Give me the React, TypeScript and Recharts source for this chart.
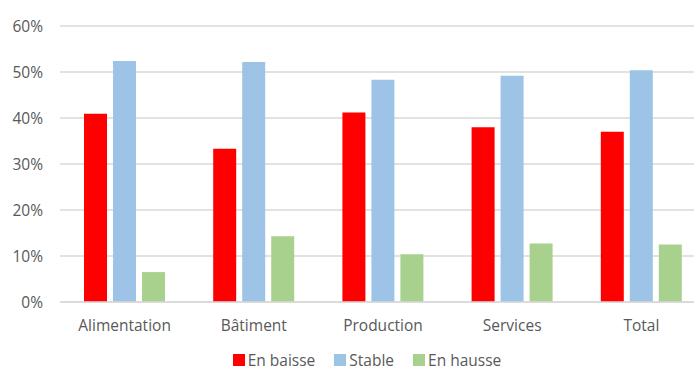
import { BarChart, Bar, XAxis, YAxis, CartesianGrid, Legend } from "recharts"

const categories = ["Alimentation", "Bâtiment", "Production", "Services", "Total"]
const enBaisse = [40.9, 33.3, 41.2, 38.0, 37.0]
const stable = [52.4, 52.2, 48.3, 49.2, 50.4]
const enHausse = [6.5, 14.3, 10.4, 12.7, 12.5]
const yTicks = [0, 10, 20, 30, 40, 50, 60]

const series = [
  { key: "baisse", name: "En baisse", color: "#FF0000" },
  { key: "stable", name: "Stable", color: "#9DC3E6" },
  { key: "hausse", name: "En hausse", color: "#A9D18E" },
]

const data = categories.map((name, i) => ({
  name,
  baisse: enBaisse[i],
  stable: stable[i],
  hausse: enHausse[i],
}))

const FONT = "'Open Sans', sans-serif"
const TEXT = "#595959"

function LegendRow() {
  return (
    <div style={{ display: "flex", justifyContent: "center", alignItems: "center", height: 14, marginTop: 16, fontFamily: FONT, fontSize: 15.5, color: TEXT }}>
      {series.map((s, i) => (
        <div key={s.key} style={{ display: "flex", alignItems: "center", marginLeft: i === 0 ? 0 : 19 }}>
          <span style={{ display: "inline-block", width: 12, height: 12, background: s.color, marginRight: 3 }} />
          <span style={{ lineHeight: "14px" }}>{s.name}</span>
        </div>
      ))}
    </div>
  )
}

export default function App() {
  return (
    <div style={{ position: "absolute", left: 0, top: 0, width: 694, height: 372, overflow: "hidden", background: "#fff" }}>
      <BarChart
        width={720}
        height={372}
        data={data}
        margin={{ top: 26, right: 14, left: 0, bottom: 0 }}
        barSize={23}
        barGap={6}
      >
        <CartesianGrid vertical={false} stroke="#D9D9D9" strokeWidth={1.3} />
        <XAxis
          dataKey="name"
          height={35}
          axisLine={{ stroke: "#D9D9D9", strokeWidth: 1.3 }}
          tickLine={false}
          tickSize={0}
          tickMargin={18}
          tick={{ fill: TEXT, fontSize: 15.5, fontFamily: FONT }}
        />
        <YAxis
          width={60}
          domain={[0, 60]}
          ticks={yTicks}
          interval={0}
          axisLine={false}
          tickLine={false}
          tickSize={0}
          tickMargin={17}
          tickFormatter={(v: number) => `${v}%`}
          tick={{ fill: TEXT, fontSize: 15.5, fontFamily: FONT }}
        />
        <Legend verticalAlign="bottom" height={35} wrapperStyle={{ left: 0, width: 734 }} content={() => <LegendRow />} />
        {series.map((s) => (
          <Bar key={s.key} dataKey={s.key} name={s.name} fill={s.color} isAnimationActive={false} />
        ))}
      </BarChart>
    </div>
  )
}
